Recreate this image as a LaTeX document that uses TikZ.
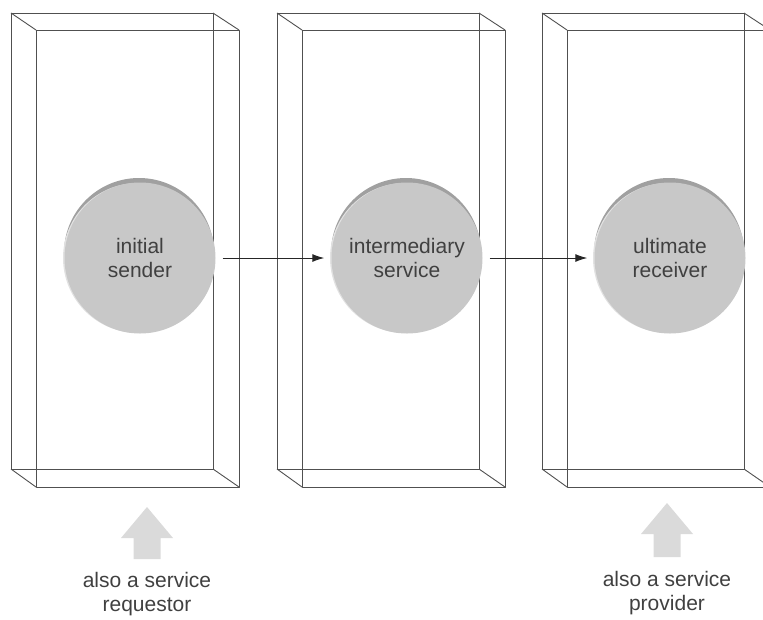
\documentclass[tikz,border=0pt]{standalone}
\usepackage{fontspec}
\setmainfont{Liberation Sans}
\usetikzlibrary{arrows.meta}
\definecolor{boxline}{HTML}{505050}
\definecolor{discfill}{HTML}{C8C8C8}
\definecolor{discedge}{HTML}{A0A0A0}
\definecolor{discglow}{HTML}{E2E2E2}
\definecolor{txt}{HTML}{404040}
\definecolor{blockarrow}{HTML}{DADADA}
\begin{document}
\begin{tikzpicture}[x=1pt,y=-1pt,
  boxedge/.style={draw=boxline, line width=0.9pt, line join=round},
  disc/.style={circle, fill=discfill, minimum size=151pt, inner sep=0pt, align=center, text=txt, font=\fontsize{21}{24}\selectfont},
  discback/.style={fill=discedge},
  discside/.style={fill=discglow},
  flow/.style={draw=black!85, line width=1pt, -{Latex[length=12pt,width=8pt]}, shorten <=7pt, shorten >=7pt},
  uparrow/.style={fill=blockarrow},
  caption/.style={align=center, text=txt, font=\fontsize{21}{24}\selectfont, inner sep=0pt}]
\useasboundingbox (0,0) rectangle (763,619);
\clip (0,0) rectangle (763,619);
% wireframe boxes
\foreach \L in {11,277,542} {
  \draw[boxedge] (\L,13) rectangle ++(202,456);
  \draw[boxedge] (\L+25,30) rectangle ++(203,457);
  \draw[boxedge] (\L,13) -- (\L+25,30) (\L+202,13) -- (\L+228,30)
                 (\L,469) -- (\L+25,487) (\L+202,469) -- (\L+228,487);
}
% discs
\foreach \cx in {140,407,670} {
  \fill[discback] (\cx-1,253) circle[radius=75];
  \fill[discside] (\cx-2,258) circle[radius=75];
}
\node[disc] (s1) at (140,258) {initial\\sender};
\node[disc] (s2) at (407,258) {intermediary\\service};
\node[disc] (s3) at (670,258) {ultimate\\receiver};
% message flow
\draw[flow] (s1) -- (s2);
\draw[flow] (s2) -- (s3);
% block arrows
\fill[uparrow] (147,507) -- (173,538) -- (160.5,538) -- (160.5,559) -- (133.5,559) -- (133.5,538) -- (121,538) -- cycle;
\fill[uparrow] (667,503) -- (693,534) -- (680.5,534) -- (680.5,557) -- (653.5,557) -- (653.5,534) -- (641,534) -- cycle;
% captions
\node[caption] (c1) at (147,594) {also a service\\requestor};
\node[caption] (c2) at (667,593) {also a service\\provider};
\end{tikzpicture}
\end{document}
